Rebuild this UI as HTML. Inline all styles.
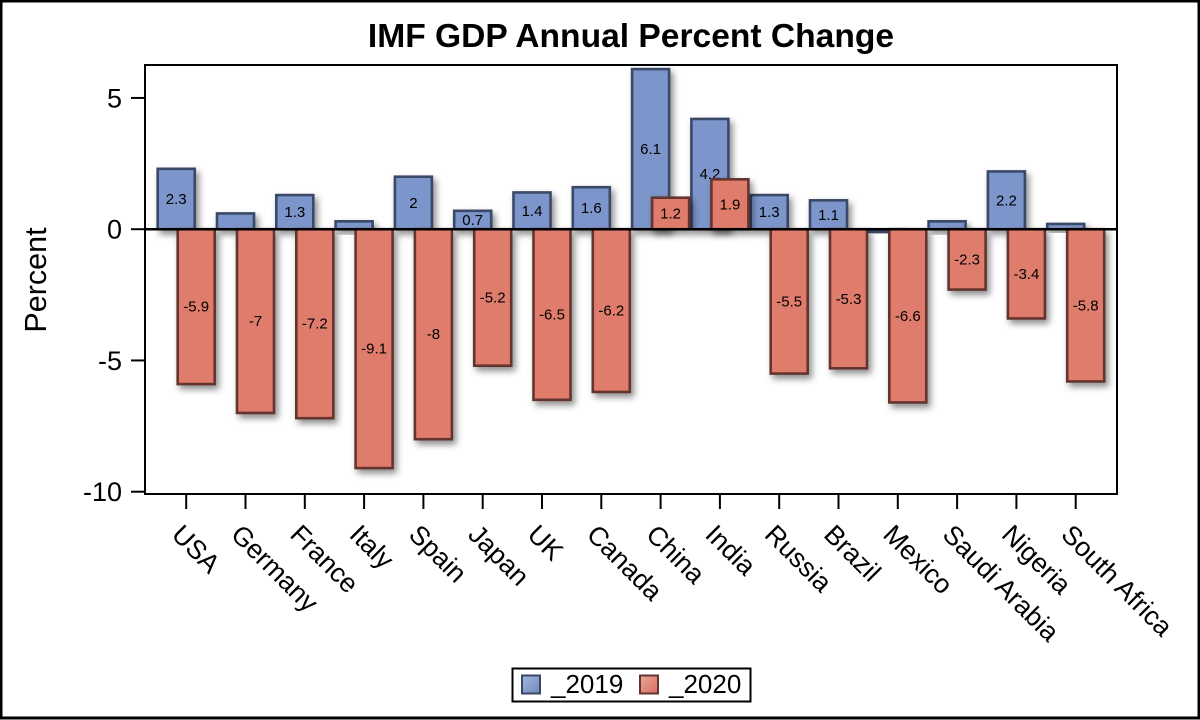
<!DOCTYPE html>
<html lang="en">
<head>
<meta charset="utf-8">
<title>IMF GDP Annual Percent Change</title>
<style>
html,body{margin:0;padding:0;background:#fff;width:1200px;height:720px;overflow:hidden}
svg{display:block;font-family:"Liberation Sans",Arial,sans-serif;filter:blur(0.35px)}
</style>
</head>
<body>
<svg id="chart" width="1200" height="720" viewBox="0 0 1200 720" xmlns="http://www.w3.org/2000/svg">
<defs>
<filter id="barShadow" x="-50%" y="-50%" width="220%" height="220%">
<feDropShadow dx="3" dy="4" stdDeviation="3.5" flood-color="#000" flood-opacity="0.45"/>
</filter>
<linearGradient id="leg19" x1="0" y1="0" x2="1" y2="1"><stop offset="0" stop-color="#a4b6dc"/><stop offset="1" stop-color="#7088bd"/></linearGradient>
<linearGradient id="leg20" x1="0" y1="0" x2="1" y2="1"><stop offset="0" stop-color="#eba598"/><stop offset="1" stop-color="#d4705f"/></linearGradient>
</defs>
<rect x="0" y="0" width="1200" height="720" fill="#fff"/>
<rect x="1" y="1" width="1198" height="717" fill="none" stroke="#000" stroke-width="3"/>
<text x="631" y="47" font-size="33.6" font-weight="bold" text-anchor="middle" fill="#000">IMF GDP Annual Percent Change</text>
<text transform="translate(46,280) rotate(-90)" font-size="30.5" text-anchor="middle" fill="#000">Percent</text>
<rect x="145" y="65" width="972" height="429" fill="#fff"/>
<g id="bars19"></g>
<g id="bars20"></g>
<g id="axes"></g>
<g>
<rect x="512.5" y="668.5" width="238" height="33" fill="#fff" stroke="#000" stroke-width="2"/>
<rect x="522" y="675.5" width="18" height="18" fill="url(#leg19)" stroke="#3a4868" stroke-width="2"/>
<text x="551" y="693" font-size="26" fill="#000">_2019</text>
<rect x="640" y="675.5" width="18" height="18" fill="url(#leg20)" stroke="#63352f" stroke-width="2"/>
<text x="669" y="693" font-size="26" fill="#000">_2020</text>
</g>
</svg>
<script>
const categories = ["USA","Germany","France","Italy","Spain","Japan","UK","Canada","China","India","Russia","Brazil","Mexico","Saudi Arabia","Nigeria","South Africa"];
const values2019 = [2.3,0.6,1.3,0.3,2,0.7,1.4,1.6,6.1,4.2,1.3,1.1,-0.1,0.3,2.2,0.2];
const values2020 = [-5.9,-7,-7.2,-9.1,-8,-5.2,-6.5,-6.2,1.2,1.9,-5.5,-5.3,-6.6,-2.3,-3.4,-5.8];
const yTicks = [5,0,-5,-10];

const NS = "http://www.w3.org/2000/svg";
function yScale(v){ return 229.2 - v * 26.25; }
function xScale(i){ return 186.2 + i * 59.3; }
function make(tag, attrs, parent){
  const el = document.createElementNS(NS, tag);
  for (const k in attrs) el.setAttribute(k, attrs[k]);
  parent.appendChild(el);
  return el;
}
function drawSeries(values, groupId, offset, fill, stroke, year){
  const g = document.getElementById(groupId);
  values.forEach(function(v, i){
    const x = xScale(i) + offset - 18.5;
    const y0 = yScale(0), y1 = yScale(v);
    const top = Math.min(y0, y1), h = Math.abs(y1 - y0);
    const bar = make("rect", {x:x, y:top, width:37, height:h, fill:fill, stroke:stroke, "stroke-width":2.6, filter:"url(#barShadow)"}, g);
    
    
    if (Math.abs(v) >= 0.7) {
      const t = make("text", {x:x + 18.5, y:top + h / 2 + 5, "font-size":15, "text-anchor":"middle", fill:"#000"}, g);
      t.textContent = String(v);
      
      
    }
  });
}
drawSeries(values2019, "bars19", -10, "#7c95ca", "#3a4868", "2019");
drawSeries(values2020, "bars20", 10, "#e07b6c", "#63352f", "2020");

const axes = document.getElementById("axes");
const zero = make("line", {x1:145, x2:1117, y1:yScale(0), y2:yScale(0), stroke:"#000", "stroke-width":2.5}, axes);


const frame = make("rect", {x:145, y:65, width:972, height:429, fill:"none", stroke:"#000", "stroke-width":2}, axes);


yTicks.forEach(function(v){
  const y = yScale(v);
  const tick = make("line", {x1:131, x2:145, y1:y, y2:y, stroke:"#000", "stroke-width":2}, axes);
  
  
  const t = make("text", {x:122, y:y + 9.5, "font-size":27, "text-anchor":"end", fill:"#000"}, axes);
  t.textContent = String(v);
  
  
});
categories.forEach(function(c, i){
  const x = xScale(i);
  const tick = make("line", {x1:x, x2:x, y1:494, y2:509, stroke:"#000", "stroke-width":2}, axes);
  
  
  const t = make("text", {transform:"translate(" + (x - 16) + ",536) rotate(45)", "font-size":26.7, fill:"#000"}, axes);
  t.textContent = c;
  
  
});
</script>
</body>
</html>
